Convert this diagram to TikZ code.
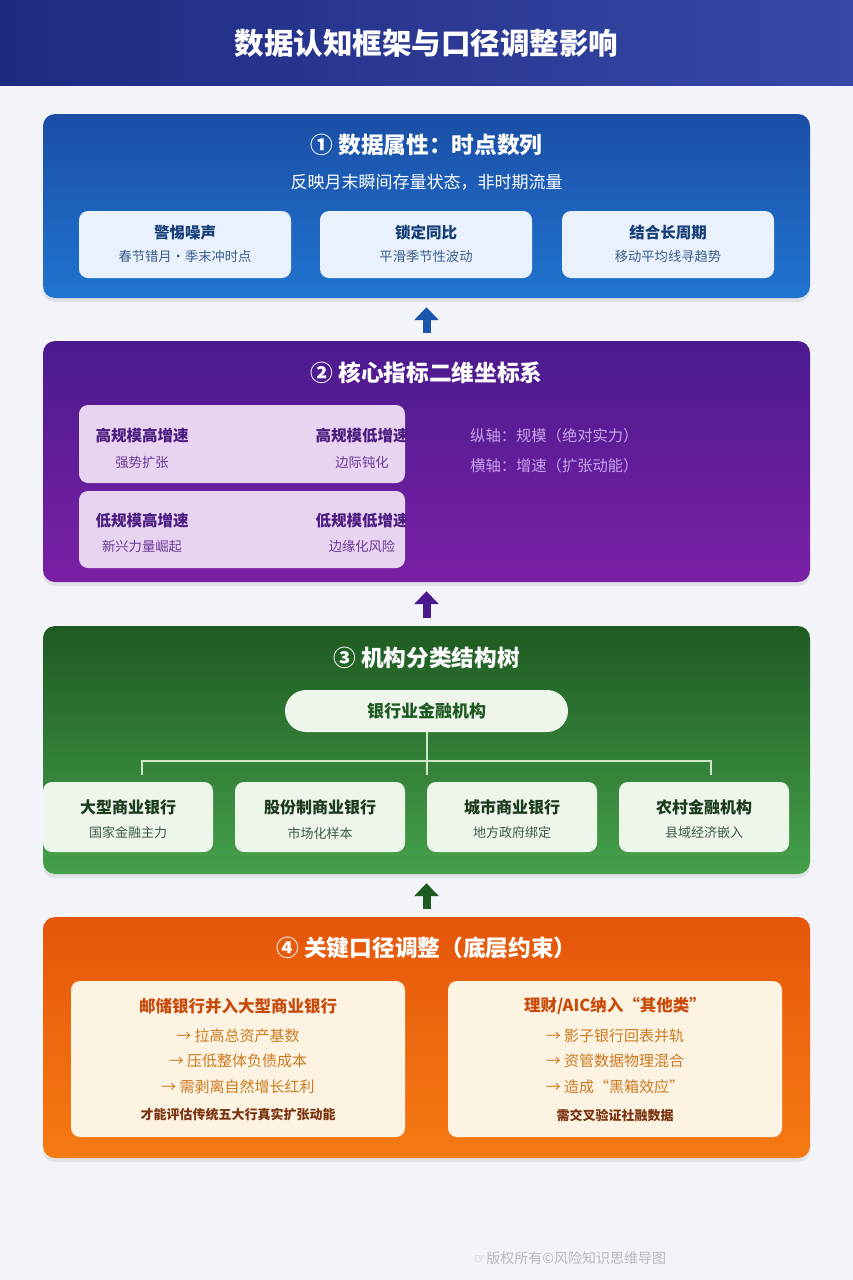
\documentclass[tikz,border=0pt]{standalone}
\usepackage{fontspec}
\setmainfont{Noto Sans CJK SC}
\newfontfamily\dejavu{DejaVu Sans}
\usetikzlibrary{arrows.meta,shadows}
\definecolor{bg}{HTML}{F3F4F9}
\definecolor{hdL}{HTML}{1E2A80}
\definecolor{hdR}{HTML}{3848A8}
\definecolor{pATop}{HTML}{1B4EA6}
\definecolor{pABot}{HTML}{1F74D0}
\definecolor{sA}{HTML}{E9F2FC}
\definecolor{sAt}{HTML}{173E78}
\definecolor{sAs}{HTML}{3C5C8C}
\definecolor{arA}{HTML}{1A56AE}
\definecolor{pBTop}{HTML}{4B1A8E}
\definecolor{pBBot}{HTML}{7A20A6}
\definecolor{sB}{HTML}{E8D3F0}
\definecolor{sBt}{HTML}{4A1C80}
\definecolor{sBs}{HTML}{6A3A98}
\definecolor{axB}{HTML}{C8A2EA}
\definecolor{arB}{HTML}{4A1890}
\definecolor{pCTop}{HTML}{1E5A22}
\definecolor{pCBot}{HTML}{45A14A}
\definecolor{sC}{HTML}{EEF6EC}
\definecolor{sCr}{HTML}{1E5A22}
\definecolor{sCt}{HTML}{1D3A1E}
\definecolor{sCs}{HTML}{3D5A3F}
\definecolor{lnC}{HTML}{CFE8C8}
\definecolor{arC}{HTML}{1E5A22}
\definecolor{pDTop}{HTML}{E5560B}
\definecolor{pDBot}{HTML}{F57A12}
\definecolor{sD}{HTML}{FDF3E3}
\definecolor{sDt}{HTML}{C94B0C}
\definecolor{sDl}{HTML}{CC7A20}
\definecolor{sDb}{HTML}{7A3210}
\definecolor{foot}{HTML}{B8B8C0}
\begin{document}
\begin{tikzpicture}[x=1pt,y=-1pt,
  panel/.style={rounded corners=12pt, inner sep=0pt, draw=none, minimum width=767pt,
    drop shadow={opacity=0.16, shadow xshift=0pt, shadow yshift=-4pt}},
  subbox/.style={rounded corners=9pt, inner sep=0pt, draw=none},
  ptitle/.style={text=white, font=\fontsize{22.7}{27}\selectfont\bfseries},
  btitle/.style={font=\fontsize{15.5}{18}\selectfont\bfseries},
  bsub/.style={font=\fontsize{13.3}{16}\selectfont},
  uparrow/.style={line width=8pt, -{Triangle[width=24pt,length=13pt]}, shorten >=9pt, shorten <=8pt}
]
\useasboundingbox (0,0) rectangle (853,1280);
\fill[bg] (0,0) rectangle (853,1280);
% header
\shade[left color=hdL, right color=hdR] (0,0) rectangle (853,85);
\node[text=white, font=\fontsize{29.5}{34}\selectfont\bfseries] (title) at (426.5,43) {数据认知框架与口径调整影响};

% ---------- panel 1
\node[panel, minimum height=184pt, top color=pATop, bottom color=pABot] (p1) at (426.5,206) {};
\node[ptitle] (t1) at (426.5,145) {① 数据属性：时点数列};
\node[text=white, font=\fontsize{17}{20}\selectfont] (t1s) at (426.5,182) {反映月末瞬间存量状态，非时期流量};
\foreach \n/\x/\a/\b in {a/185/警惕噪声/春节错月·季末冲时点, b/426/锁定同比/平滑季节性波动, c/668/结合长周期/移动平均线寻趋势}{
  \node[subbox, fill=sA, minimum width=212pt, minimum height=67pt] (s1\n) at (\x,244.5) {};
  \node[btitle, text=sAt] (s1\n t) at (\x,233) {\a};
  \node[bsub, text=sAs] (s1\n s) at (\x,256) {\b};
}

% ---------- panel 2
\node[panel, minimum height=241pt, top color=pBTop, bottom color=pBBot] (p2) at (426.5,461.5) {};
\node[ptitle] (t2) at (426.5,373) {② 核心指标二维坐标系};
\node[subbox, fill=sB, minimum width=326pt, minimum height=78pt] (q1) at (242,444) {};
\node[subbox, fill=sB, minimum width=326pt, minimum height=77pt] (q2) at (242,529.5) {};
\begin{scope}
  \clip[rounded corners=9pt] (79,405) rectangle (405,483);
  \node[btitle, text=sBt] (q1a) at (142,436) {高规模高增速};
  \node[bsub, text=sBs] (q1b) at (142,462) {强势扩张};
  \node[btitle, text=sBt] (q1c) at (362,436) {高规模低增速};
  \node[bsub, text=sBs] (q1d) at (362,462) {边际钝化};
\end{scope}
\begin{scope}
  \clip[rounded corners=9pt] (79,491) rectangle (405,568);
  \node[btitle, text=sBt] (q2a) at (142,521) {低规模高增速};
  \node[bsub, text=sBs] (q2b) at (142,546) {新兴力量崛起};
  \node[btitle, text=sBt] (q2c) at (362,521) {低规模低增速};
  \node[bsub, text=sBs] (q2d) at (362,546) {边缘化风险};
\end{scope}
\node[anchor=west, inner sep=0pt, text=axB, font=\fontsize{15.3}{18}\selectfont] (ax1) at (470,436) {纵轴：规模（绝对实力）};
\node[anchor=west, inner sep=0pt, text=axB, font=\fontsize{15.3}{18}\selectfont] (ax2) at (470,466) {横轴：增速（扩张动能）};

% ---------- panel 3
\node[panel, minimum height=248pt, top color=pCTop, bottom color=pCBot] (p3) at (426.5,750) {};
\node[ptitle] (t3) at (426.5,658) {③ 机构分类结构树};
\node[rounded corners=21pt, fill=sC, minimum width=283pt, minimum height=42pt, inner sep=0pt,
  text=sCr, font=\fontsize{17}{20}\selectfont\bfseries] (root) at (426.5,711) {银行业金融机构};
\coordinate (hl) at (142,761);
\coordinate (hr) at (711,761);
\coordinate (hlb) at (142,775);
\coordinate (hrb) at (711,775);
\coordinate (hmb) at (426.5,775);
\draw[lnC, line width=2pt] (root.south) -- (hmb);
\draw[lnC, line width=2pt] (hlb) -- (hl) -- (hr) -- (hrb);
\foreach \n/\x/\a/\b in {a/128/大型商业银行/国家金融主力, b/320/股份制商业银行/市场化样本, c/512/城市商业银行/地方政府绑定, d/704/农村金融机构/县域经济嵌入}{
  \node[subbox, fill=sC, minimum width=170pt, minimum height=70pt] (c\n) at (\x,817) {};
  \node[font=\fontsize{16}{19}\selectfont\bfseries, text=sCt] (c\n t) at (\x,807) {\a};
  \node[font=\fontsize{13}{16}\selectfont, text=sCs] (c\n s) at (\x,833) {\b};
}

% ---------- panel 4
\node[panel, minimum height=241pt, top color=pDTop, bottom color=pDBot] (p4) at (426.5,1037.5) {};
\node[ptitle] (t4) at (426.5,948) {④ 关键口径调整（底层约束）};
\node[subbox, fill=sD, minimum width=334pt, minimum height=156pt] (d1) at (238,1059) {};
\node[subbox, fill=sD, minimum width=334pt, minimum height=156pt] (d2) at (615,1059) {};
\tikzset{dline/.style={text=sDl, font=\fontsize{15}{18}\selectfont}}
\node[text=sDt, font=\fontsize{16.5}{20}\selectfont\bfseries] (d1t) at (238,1006) {邮储银行并入大型商业银行};
\node[dline] (d1a) at (238,1036) {→ 拉高总资产基数};
\node[dline] (d1b) at (238,1061) {→ 压低整体负债成本};
\node[dline] (d1c) at (238,1087) {→ 需剥离自然增长红利};
\node[text=sDb, font=\fontsize{13}{16}\selectfont\bfseries] (d1d) at (238,1115) {才能评估传统五大行真实扩张动能};
\node[text=sDt, font=\fontsize{16.5}{20}\selectfont\bfseries] (d2t) at (615,1006) {理财/AIC纳入“其他类”};
\node[dline] (d2a) at (615,1036) {→ 影子银行回表并轨};
\node[dline] (d2b) at (615,1061) {→ 资管数据物理混合};
\node[dline] (d2c) at (615,1087) {→ 造成“黑箱效应”};
\node[text=sDb, font=\fontsize{13}{16}\selectfont\bfseries] (d2d) at (615,1115) {需交叉验证社融数据};

% ---------- arrows between panels
\draw[uparrow, arA] (p2.north) -- (p1.south);
\draw[uparrow, arB] (p3.north) -- (p2.south);
\draw[uparrow, arC] (p4.north) -- (p3.south);

% footer
\node[text=foot, font=\fontsize{14}{17}\selectfont] (foot) at (570,1258) {{\dejavu ☞}版权所有©风险知识思维导图};
\end{tikzpicture}
\end{document}
